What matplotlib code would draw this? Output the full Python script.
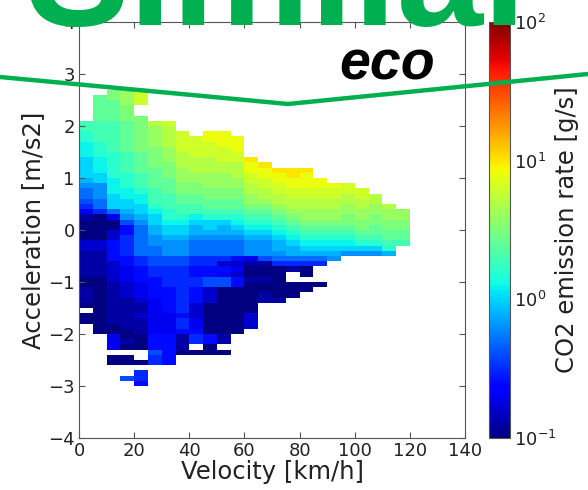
import numpy as np
import matplotlib
matplotlib.use('Agg')
import matplotlib.pyplot as plt
from matplotlib.colors import LogNorm
from matplotlib.lines import Line2D

# bins: velocity [km/h], acceleration [m/s2]
velocity_edges = np.arange(0, 125, 5)
accel_edges = np.round(np.arange(-3.0, 2.75, 0.1), 1)

# one string per velocity bin, rows go from a=2.7 (top) down to a=-3.0
# char index -> log10 level: '0' = 0.1 g/s, 'A' = 1 g/s, 'K' = 10 g/s, '.' = empty
level_chars = "0123456789ABCDEFGHIJK"
co2_cols = [
    "......DDCCBBBAAAA98776531" + "00002211111001110" + ".00" + "." * 12,
    ".EEEEEDDDDCCCBBBAA888775" + "00000221111100000000000" + "." * 10,
    "FFEEEEDDDDDDCCCCCBBBAAA73" + "0022444422221111111100333" + ".00....",
    "GGGFFFEEEEEEDDDDCCCBBAA9" + "86445555443332221111110010" + ".00..6.",
    "III..FFFFFFFEEEEDDDCBBAA" + "98777777" + "554443332112111000" + "..0.554",
    "......HGGGGFFFFEEEEDDDCBAA" + "998877665544443333333444655" + "....",
    "......IHHHHGGGFFFEEEDDDCCBAA" + "9888665555444443333444444" + "....",
    "........IIIIHHHGGGFFEEDDCBAA" + "98886655555555545541110" + "......",
    "........." + "IIIIHHHGGFFEEDDBA" + "99877755445544422233455" + ".0......",
    "........" + "JJIIIHHHGGGFFEEDCAA" + "987775544662220000004400" + "......",
    "........" + "JJJIIIHHGGGFFEEDC" + "A998777524366" + "00000000011" + ".0......",
    "........." + "JJJIIHHHGGFFEEDCBA" + "98777423244" + "000000000" + "." * 10,
    "." * 13 + "KJJIIHHGGFEDCBA9" + "88831001000000222" + "." * 11,
    "." * 14 + "KJJIIHHGFEDCBA9" + "888610010011" + "." * 16,
    "." * 15 + "KJJIIHHGFEDCBA" + "998750000001" + "." * 16,
    "." * 15 + "KKJJIIHHGFEDCB" + "A99751" + ".." + "000" + "." * 17,
    "." * 15 + "KJJJIIHHGGFEDCBA975" + "00" + "." + "00" + "." * 18,
    "." * 17 + "JJIIHHGGFEDCBA975" + "..." + "0" + "." * 19,
    "." * 18 + "JIIHHGGFEDCBA98" + "." * 24,
    "." * 18 + "IIHHGGFFEDCBA8" + "." * 25,
    "." * 19 + "IIHHGGFFEDCA8" + "." * 25,
    "." * 20 + "HHGGFFEEDCA8" + "." * 25,
    "." * 22 + "HGGFFEEDC9" + "." * 25,
    "." * 23 + "GGFFEED" + "." * 27,
]

n_rows = len(accel_edges) - 1
co2_rate = np.full((n_rows, len(velocity_edges) - 1), np.nan)
for j, col in enumerate(co2_cols):
    assert len(col) == n_rows, (j, len(col))
    for i, ch in enumerate(col):
        if ch != '.':
            co2_rate[n_rows - 1 - i, j] = 10 ** (-1 + 0.1 * level_chars.index(ch))

grey = '#555555'
txt = '#222222'

fig = plt.figure(figsize=(5.88, 4.9), dpi=100)
ax = fig.add_axes([0.1344, 0.1061, 0.6565, 0.849])
cax = fig.add_axes([0.8316, 0.1061, 0.0357, 0.849])

mesh = ax.pcolormesh(velocity_edges, accel_edges, np.ma.masked_invalid(co2_rate),
                     cmap='jet', norm=LogNorm(vmin=0.1, vmax=100), linewidth=0)
ax.set_xlim(0, 140)
ax.set_ylim(-4, 4)
ax.set_xticks(np.arange(0, 141, 20))
ax.set_yticks(np.arange(-4, 5, 1))
ax.tick_params(direction='in', top=True, right=True, length=4, color=grey,
               labelsize=13, labelcolor=txt, pad=3)
for s in ax.spines.values():
    s.set_color(grey)
ax.set_xlabel('Velocity [km/h]', fontsize=17.5, color=txt, labelpad=0)
ax.set_ylabel('Acceleration [m/s2]', fontsize=17.5, color=txt, labelpad=2)

cb = fig.colorbar(mesh, cax=cax)
cb.set_ticks([0.1, 1, 10, 100])
cax.minorticks_off()
cax.tick_params(length=0, labelsize=13, labelcolor=txt, pad=3)
cb.outline.set_edgecolor(grey)
cb.set_label('CO2 emission rate [g/s]', fontsize=17.5, color=txt, labelpad=-1)

# slide overlay: title fragment, 'eco' tag and green chevron line
green = '#00B050'
fig.text(26 / 588, 1 - 25 / 490, 'Similar', fontsize=112, fontweight='bold',
         family='Liberation Sans', color=green, ha='left', va='baseline', zorder=10)
fig.text(339 / 588, 1 - 79 / 490, 'eco', fontsize=40, fontweight='bold', style='italic',
         family='Liberation Sans', color='black', ha='left', va='baseline', zorder=10)
fig.add_artist(Line2D([0, 288 / 588, 1], [1 - 77 / 490, 1 - 104 / 490, 1 - 74 / 490],
                      transform=fig.transFigure, color=green, lw=3.2, zorder=11))

fig.savefig('out.png', dpi=100)
